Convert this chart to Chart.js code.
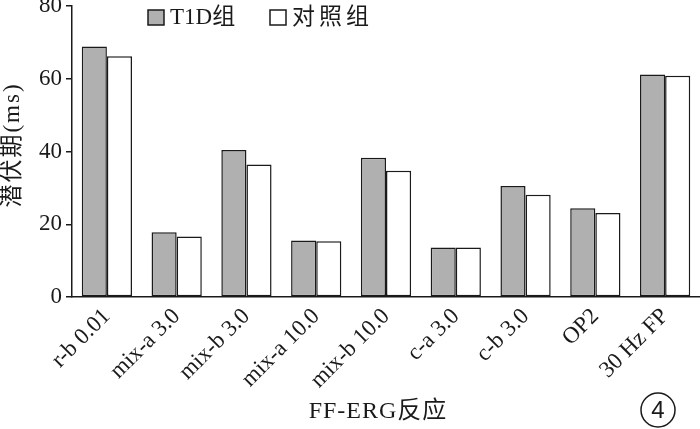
<!DOCTYPE html>
<html>
<head>
<meta charset="utf-8">
<script src="https://cdn.jsdelivr.net/npm/chart.js@4.4.0/dist/chart.umd.min.js"></script>
<style>
  html, body { margin: 0; padding: 0; background: #fff; }
  #wrap { width: 700px; height: 429px; position: relative; }
</style>
</head>
<body>
<div id="wrap"><canvas id="ergChart"></canvas></div>
<script>
(function() {
    'use strict';

    // data
    const categories = ['r-b 0.01', 'mix-a 3.0', 'mix-b 3.0', 'mix-a 10.0', 'mix-b 10.0', 'c-a 3.0', 'c-b 3.0', 'OP2', '30 Hz FP'];
    const t1dValues = [68.9, 17.8, 40.4, 15.5, 38.3, 13.6, 30.5, 24.4, 61.2];
    const controlValues = [66.2, 16.6, 36.4, 15.3, 34.7, 13.6, 28.1, 23.1, 60.8];
    const seriesNames = ['T1D组', '对照组'];
    const yTicks = [0, 20, 40, 60, 80];
    const xTitle = 'FF-ERG反应';
    const yTitle = '潜伏期(ms)';
    const panelMark = '4';

    const SERIF = '"Liberation Serif", "DejaVu Serif", "Noto Sans CJK SC", serif';
    const INK = '#1a1a1a';

    // legend, axis titles and panel number drawn by hand
    const extras = {
        id: 'extras',
        afterDraw(chart) {
            const ctx = chart.ctx;
            const hasLS = 'letterSpacing' in ctx;
            ctx.save();
            ctx.font = '23px ' + SERIF;
            ctx.textBaseline = 'middle';
            ctx.lineWidth = 1.5;
            ctx.strokeStyle = INK;
            const xs = [148, 270];
            chart.data.datasets.forEach(function(ds, i) {
                const x = xs[i];
                ctx.fillStyle = ds.backgroundColor;
                ctx.fillRect(x, 10, 16, 15);
                ctx.strokeRect(x, 10, 16, 15);
                ctx.fillStyle = INK;
                if (hasLS) ctx.letterSpacing = i === 1 ? '4px' : '0px';
                ctx.fillText(ds.label, x + 22, 18);
            });

            // y title
            const area = chart.chartArea;
            ctx.save();
            ctx.translate(13, 145);
            ctx.rotate(-Math.PI / 2);
            ctx.textAlign = 'center';
            if (hasLS) ctx.letterSpacing = '2px';
            ctx.fillText(yTitle, 0, 0);
            ctx.restore();

            // x title
            ctx.textAlign = 'center';
            if (hasLS) ctx.letterSpacing = '1px';
            ctx.font = '24px ' + SERIF;
            ctx.fillText(xTitle, (area.left + area.right) / 2 - 8, 412);
            if (hasLS) ctx.letterSpacing = '0px';

            // circled panel number
            ctx.beginPath();
            ctx.arc(658, 410, 17, 0, Math.PI * 2);
            ctx.stroke();
            ctx.font = '24px "Liberation Sans", sans-serif';
            ctx.fillText(panelMark, 658, 411);
            ctx.restore();
        }
    };

    const ctx = document.getElementById('ergChart').getContext('2d');
    new Chart(ctx, {
        type: 'bar',
        data: {
            labels: categories,
            datasets: [{
                label: seriesNames[0],
                data: t1dValues,
                backgroundColor: '#b0b0b0',
                borderColor: INK,
                borderWidth: 1.5,
                borderSkipped: false
            }, {
                label: seriesNames[1],
                data: controlValues,
                backgroundColor: '#ffffff',
                borderColor: INK,
                borderWidth: 1.5,
                borderSkipped: false
            }]
        },
        options: {
            responsive: true,
            maintainAspectRatio: false,
            animation: false,
            layout: { padding: { top: 6, right: 0, left: 0, bottom: 0 } },
            plugins: {
                legend: { display: false },
                tooltip: { enabled: false }
            },
            datasets: {
                bar: { categoryPercentage: 0.72, barPercentage: 1.0 }
            },
            scales: {
                x: {
                    grid: { display: false, drawTicks: false },
                    border: { color: INK, width: 1.5 },
                    ticks: {
                        color: INK,
                        font: { family: SERIF, size: 23 },
                        maxRotation: 45,
                        minRotation: 45,
                        padding: 6
                    },
                    afterFit: function(scale) { scale.height = 132; }
                },
                y: {
                    min: 0,
                    max: 80,
                    afterBuildTicks: function(scale) {
                        scale.ticks = yTicks.map(function(v) { return { value: v }; });
                    },
                    grid: { drawOnChartArea: false, drawTicks: true, tickLength: 6, color: INK, lineWidth: 1.5 },
                    border: { color: INK, width: 1.5 },
                    ticks: {
                        color: INK,
                        font: { family: SERIF, size: 23 },
                        padding: 4
                    },
                    afterFit: function(scale) {
                        scale.width = 72;
                        scale.paddingTop = 0;
                        scale.paddingBottom = 0;
                    }
                }
            }
        },
        plugins: [extras]
    });
})();
</script>
</body>
</html>
